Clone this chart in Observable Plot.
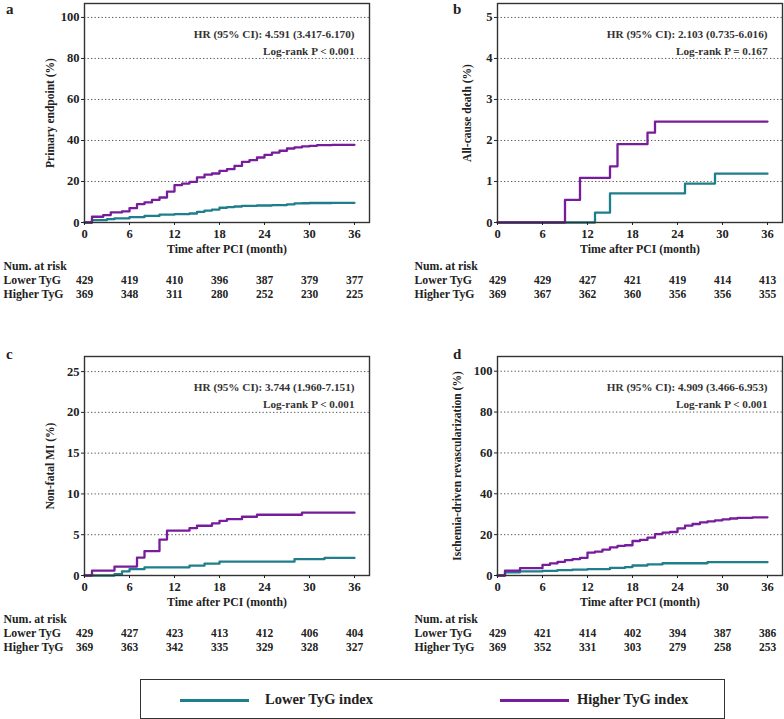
<!DOCTYPE html>
<html>
<head>
<meta charset="utf-8">
<script src="https://cdn.jsdelivr.net/npm/d3@7"></script>
<script src="https://cdn.jsdelivr.net/npm/@observablehq/plot@0.6"></script>
<style>
  html, body { margin: 0; padding: 0; background: #fff; }
  #fig { position: relative; width: 784px; height: 719px; overflow: hidden; background: #fff;
         font-family: 'Liberation Serif', 'Times New Roman', serif; font-weight: bold; color: #222; }
  .panel { position: absolute; }
  .letter { position: absolute; font-size: 15px; font-weight: bold; }
  #legend { position: absolute; left: 140px; top: 679px; width: 585px; height: 40px; box-sizing: border-box;
            border: 1.5px solid #333; }
  .lg { position: absolute; top: 11px; font-size: 14.5px; white-space: nowrap; }
  .lgline { position: absolute; top: 19px; height: 3px; }
</style>
</head>
<body>
<div id="fig"></div>
<script>
// ---- shared axis values ----
const xTicks = [0, 6, 12, 18, 24, 30, 36];
const riskTimes = [0, 6, 12, 18, 24, 30, 36];
const seriesNames = ["Lower TyG index", "Higher TyG index"];
const rowLabels = ["Lower TyG", "Higher TyG"];
const colorLower = "#1f7e8b";
const colorHigher = "#771d9c";

// ---- panel a: primary endpoint ----
const aLowerT = [0, 1, 3, 4, 6, 8, 10, 12, 14, 15, 16, 17, 18, 19, 20, 21, 23, 25, 27, 28, 29, 30, 33, 36];
const aLowerV = [0, 1.2, 1.6, 2.0, 2.6, 3.2, 3.8, 4.1, 4.4, 5.2, 5.8, 6.3, 7.2, 7.5, 7.8, 8.1, 8.3, 8.5, 8.8, 9.3, 9.4, 9.5, 9.6, 9.6];
const aHigherT = [0, 1, 2.5, 3.5, 5, 6, 7, 8, 9, 10, 11, 12, 13, 14, 15, 16, 17, 18, 19, 20, 21, 22, 23, 24, 25, 26, 27, 28, 29, 30, 31, 33, 36];
const aHigherV = [0, 2.8, 3.6, 4.9, 5.4, 7.0, 9.0, 9.8, 11.0, 12.2, 15.1, 18.2, 19.0, 19.8, 22.0, 23.3, 23.9, 25.2, 26.0, 27.6, 29.6, 30.4, 31.7, 33.0, 34.1, 35.0, 36.1, 36.6, 37.1, 37.4, 37.7, 37.9, 37.9];
const aRiskLower = [429, 419, 410, 396, 387, 379, 377];
const aRiskHigher = [369, 348, 311, 280, 252, 230, 225];
const aYTicks = [0, 20, 40, 60, 80, 100];
const aYLabel = "Primary endpoint (%)";
const aHR = "HR (95% CI): 4.591 (3.417-6.170)";
const aP = "Log-rank P < 0.001";

// ---- panel b: all-cause death ----
const bLowerT = [0, 13, 15, 25, 29, 36];
const bLowerV = [0, 0.24, 0.71, 0.95, 1.19, 1.19];
const bHigherT = [0, 9, 11, 15, 16, 20, 21, 36];
const bHigherV = [0, 0.55, 1.09, 1.37, 1.91, 2.19, 2.46, 2.46];
const bRiskLower = [429, 429, 427, 421, 419, 414, 413];
const bRiskHigher = [369, 367, 362, 360, 356, 356, 355];
const bYTicks = [0, 1, 2, 3, 4, 5];
const bYLabel = "All-cause death (%)";
const bHR = "HR (95% CI): 2.103 (0.735-6.016)";
const bP = "Log-rank P = 0.167";

// ---- panel c: non-fatal MI ----
const cLowerT = [0, 4, 5, 6, 8, 14, 16, 18, 28, 32, 36];
const cLowerV = [0, 0.16, 0.5, 0.77, 1.0, 1.2, 1.45, 1.7, 2.0, 2.15, 2.15];
const cHigherT = [0, 1, 4, 7, 8, 10, 11, 14, 15, 17, 18, 19, 21, 23, 29, 36];
const cHigherV = [0, 0.61, 1.1, 2.2, 3.0, 4.4, 5.5, 5.8, 6.1, 6.4, 6.7, 6.9, 7.2, 7.45, 7.7, 7.7];
const cRiskLower = [429, 427, 423, 413, 412, 406, 404];
const cRiskHigher = [369, 363, 342, 335, 329, 328, 327];
const cYTicks = [0, 5, 10, 15, 20, 25];
const cYLabel = "Non-fatal MI (%)";
const cHR = "HR (95% CI): 3.744 (1.960-7.151)";
const cP = "Log-rank P < 0.001";

// ---- panel d: ischemia-driven revascularization ----
const dLowerT = [0, 1, 3, 6, 8, 10, 12, 15, 17, 18, 20, 22, 28, 36];
const dLowerV = [0, 1.6, 2.0, 2.3, 2.6, 2.9, 3.1, 3.7, 4.1, 4.9, 5.4, 6.0, 6.5, 6.5];
const dHigherT = [0, 1, 3, 6, 7, 8, 9, 10, 11, 12, 13, 14, 15, 16, 17, 18, 19, 20, 21, 22, 23, 24, 25, 26, 27, 28, 29, 30, 31, 32, 34, 36];
const dHigherV = [0, 2.4, 3.6, 5.2, 5.9, 6.7, 7.5, 8.0, 8.6, 11.2, 11.7, 12.7, 13.8, 14.5, 14.8, 16.9, 17.4, 18.5, 20.3, 21.0, 21.3, 23.1, 24.4, 25.2, 26.0, 26.5, 27.0, 27.5, 27.9, 28.2, 28.5, 28.5];
const dRiskLower = [429, 421, 414, 402, 394, 387, 386];
const dRiskHigher = [369, 352, 331, 303, 279, 258, 253];
const dYTicks = [0, 20, 40, 60, 80, 100];
const dYLabel = "Ischemia-driven revascularization (%)";
const dHR = "HR (95% CI): 4.909 (3.466-6.953)";
const dP = "Log-rank P < 0.001";

function pts(T, V) { return T.map((t, i) => ({t, v: V[i]})); }

function panel(o) {
  const fb = 222; // frame bottom (px)
  const H = 310;
  const font = "'Liberation Serif', 'Times New Roman', serif";
  return Plot.plot({
    width: 392, height: H,
    marginTop: 3, marginBottom: H - fb, marginLeft: o.ml, marginRight: o.mr,
    x: {domain: [0, 38]},
    y: {domain: [0, o.ytop]},
    style: {fontFamily: font, fontSize: "12px", fontWeight: "bold", color: "#222", background: "transparent", overflow: "visible"},
    marks: [
      Plot.gridY(o.yTicks.filter(v => v > 0), {stroke: "#444", strokeOpacity: 0.9, strokeDasharray: "1.3,2.2", strokeWidth: 1}),
      Plot.line(pts(o.lT, o.lV), {x: "t", y: "v", curve: "step-after", stroke: colorLower, strokeWidth: 2.3}),
      Plot.line(pts(o.hT, o.hV), {x: "t", y: "v", curve: "step-after", stroke: colorHigher, strokeWidth: 2.3}),
      Plot.frame({stroke: "#333", strokeWidth: 1.4}),
      Plot.axisX({ticks: xTicks, tickSize: 3, tickPadding: 4, label: null, fontSize: 12.5, tickFormat: d => String(d)}),
      Plot.axisY({ticks: o.yTicks, tickSize: 3, tickPadding: 2, label: null, fontSize: 12.5, tickFormat: d => String(d)}),
      // annotation
      Plot.text([o.hr], {x: () => 36, text: d => d, frameAnchor: "top", dy: 27, textAnchor: "end", fontSize: 11.2, fontWeight: "bold", fill: "#333"}),
      Plot.text([o.p], {x: () => 36, text: d => d, frameAnchor: "top", dy: 44, textAnchor: "end", fontSize: 11.2, fontWeight: "bold", fill: "#333"}),
      // y axis title
      Plot.text([o.ylabel], {text: d => d, frameAnchor: "left", dx: o.ylx, rotate: -90, textAnchor: "middle", fontSize: 11.5, fontWeight: "bold", fill: "#222"}),
      // x axis title
      Plot.text(["Time after PCI (month)"], {text: d => d, frameAnchor: "bottom", dy: 30, fontSize: 11.8, fontWeight: "bold", fill: "#222"}),
      // risk table
      Plot.text(["Num. at risk"], {text: d => d, frameAnchor: "bottom-left", dx: o.tlx, dy: 47, textAnchor: "start", fontSize: 11.8, fontWeight: "bold", fill: "#222"}),
      Plot.text([rowLabels[0]], {text: d => d, frameAnchor: "bottom-left", dx: o.tlx, dy: 61, textAnchor: "start", fontSize: 11.8, fontWeight: "bold", fill: "#222"}),
      Plot.text([rowLabels[1]], {text: d => d, frameAnchor: "bottom-left", dx: o.tlx, dy: 75, textAnchor: "start", fontSize: 11.8, fontWeight: "bold", fill: "#222"}),
      Plot.text(o.rl, {x: (d, i) => riskTimes[i], text: d => String(d), frameAnchor: "bottom", dy: 61, fontSize: 11.5, fontWeight: "bold", fill: "#222"}),
      Plot.text(o.rh, {x: (d, i) => riskTimes[i], text: d => String(d), frameAnchor: "bottom", dy: 75, fontSize: 11.5, fontWeight: "bold", fill: "#222"})
    ]
  });
}

const fig = document.getElementById("fig");
function place(node, left, top) {
  const w = document.createElement("div");
  w.className = "panel"; w.style.left = left + "px"; w.style.top = top + "px";
  w.appendChild(node); fig.appendChild(w);
}

place(panel({ml: 84, mr: 23, ytop: 106.8, yTicks: aYTicks, lT: aLowerT, lV: aLowerV, hT: aHigherT, hV: aHigherV,
  rl: aRiskLower, rh: aRiskHigher, hr: aHR, p: aP, ylabel: aYLabel, ylx: -34, tlx: -81}), 0, 0);
place(panel({ml: 105, mr: 2, ytop: 5.34, yTicks: bYTicks, lT: bLowerT, lV: bLowerV, hT: bHigherT, hV: bHigherV,
  rl: bRiskLower, rh: bRiskHigher, hr: bHR, p: bP, ylabel: bYLabel, ylx: -30, tlx: -83}), 392, 0);
place(panel({ml: 84, mr: 23, ytop: 26.85, yTicks: cYTicks, lT: cLowerT, lV: cLowerV, hT: cHigherT, hV: cHigherV,
  rl: cRiskLower, rh: cRiskHigher, hr: cHR, p: cP, ylabel: cYLabel, ylx: -34, tlx: -81}), 0, 353);
place(panel({ml: 105, mr: 2, ytop: 107.2, yTicks: dYTicks, lT: dLowerT, lV: dLowerV, hT: dHigherT, hV: dHigherV,
  rl: dRiskLower, rh: dRiskHigher, hr: dHR, p: dP, ylabel: dYLabel, ylx: -40, tlx: -83}), 392, 353);

// panel letters
[["a", 6, 1], ["b", 453, 1], ["c", 6, 346], ["d", 453, 346]].forEach(([t, l, tp]) => {
  const d = document.createElement("div"); d.className = "letter"; d.textContent = t;
  d.style.left = l + "px"; d.style.top = tp + "px"; fig.appendChild(d);
});

// legend
const lg = document.createElement("div"); lg.id = "legend";
lg.innerHTML =
  `<div class="lgline" style="left:39px;width:69px;background:${colorLower}"></div>` +
  `<div class="lg" style="left:124px">${seriesNames[0]}</div>` +
  `<div class="lgline" style="left:359px;width:69px;background:${colorHigher}"></div>` +
  `<div class="lg" style="left:436px">${seriesNames[1]}</div>`;
fig.appendChild(lg);
</script>
</body>
</html>
